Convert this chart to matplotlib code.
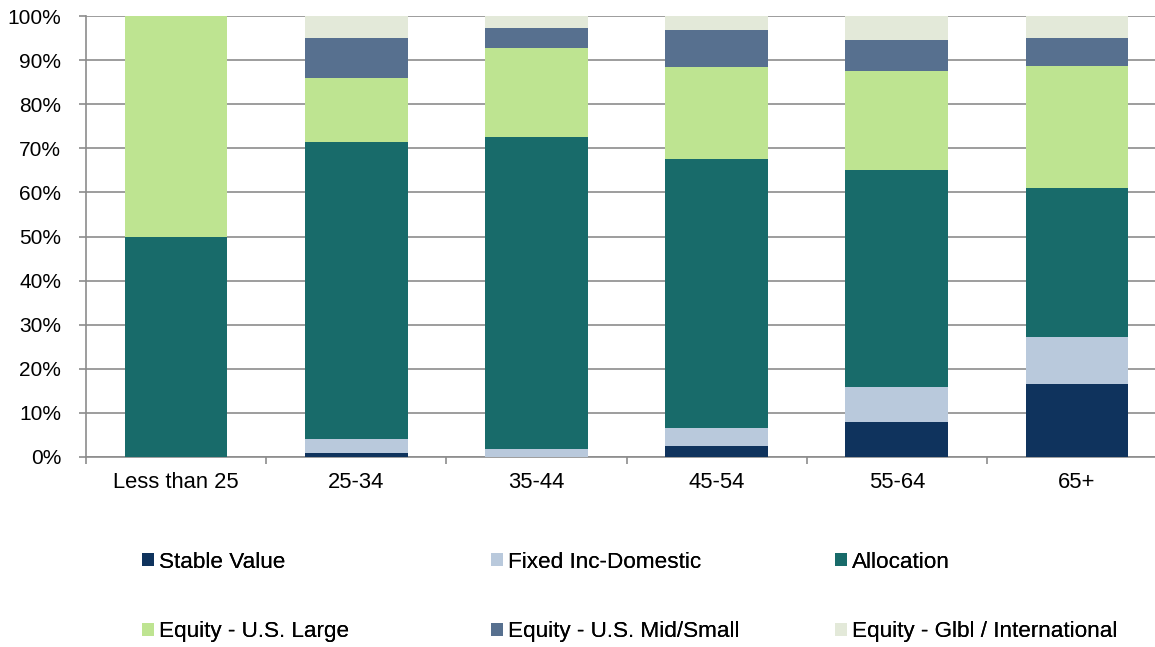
import matplotlib
matplotlib.use("Agg")
import matplotlib.pyplot as plt
import numpy as np

plt.rcParams['font.family'] = ['Liberation Sans', 'DejaVu Sans']

categories = ["Less than 25", "25-34", "35-44", "45-54", "55-64", "65+"]
series_names = ["Stable Value", "Fixed Inc-Domestic", "Allocation",
                "Equity - U.S. Large", "Equity - U.S. Mid/Small",
                "Equity - Glbl / International"]
stable_value = [0.0, 0.9, 0.0, 2.4, 7.9, 16.6]
fixed_inc = [0.0, 3.1, 1.7, 4.1, 8.0, 10.6]
allocation = [50.0, 67.5, 70.8, 61.2, 49.1, 33.8]
equity_large = [50.0, 14.6, 20.4, 20.7, 22.6, 27.7]
equity_mid = [0.0, 9.0, 4.4, 8.6, 7.1, 6.4]
equity_glbl = [0.0, 4.9, 2.7, 3.0, 5.3, 4.9]
colors = ["#0F335D", "#B9C9DC", "#186B6A", "#BEE491", "#57708F", "#E3E9D9"]
y_ticks = [0, 10, 20, 30, 40, 50, 60, 70, 80, 90, 100]

W, H = 1155, 647
fig = plt.figure(figsize=(W / 100, H / 100), dpi=100)
ax = fig.add_axes([86 / W, (H - 456.7) / H, 1081 / W, 440.4 / H])

series = [stable_value, fixed_inc, allocation, equity_large, equity_mid, equity_glbl]
x = np.arange(len(categories))
bottom = np.zeros(len(categories))
handles = []
for name, vals, c in zip(series_names, series, colors):
    b = ax.bar(x, vals, width=0.57, bottom=bottom, color=c, label=name,
               linewidth=0, zorder=3)
    handles.append(b)
    bottom += np.array(vals)

ax.set_xlim(-0.5, len(categories) - 0.5)
ax.set_ylim(0, 100)
ax.set_yticks(y_ticks)
ax.set_yticklabels([f"{v}%" for v in y_ticks])
ax.yaxis.grid(True, color="#8C8C8C", linewidth=1.2, zorder=0)
ax.set_axisbelow(True)

ax.set_xticks(x)
ax.set_xticklabels(categories)
ax.set_xticks(np.arange(-0.5, len(categories) + 0.5, 1), minor=True)
ax.tick_params(axis='x', which='major', length=0, labelsize=15.8, pad=11)
ax.tick_params(axis='x', which='minor', length=5, color="#8C8C8C", width=1.2)
ax.tick_params(axis='y', length=5, color="#8C8C8C", width=1.2, labelsize=15, pad=13)

for s in ["top", "right"]:
    ax.spines[s].set_visible(False)
for s in ["left", "bottom"]:
    ax.spines[s].set_color("#8C8C8C")
    ax.spines[s].set_linewidth(1.2)

# legend: Excel-like layout (3 columns, 2 rows, uneven columns)
col_x = [142, 491, 835]
row_y = [562, 632]
order = [(0, 0, 0), (1, 1, 0), (2, 2, 0), (3, 0, 1), (4, 1, 1), (5, 2, 1)]
for idx, ci, ri in order:
    leg = fig.legend([handles[idx]], [series_names[idx]], loc='center left',
                     bbox_to_anchor=(col_x[ci] / W, 1 - row_y[ri] / H),
                     bbox_transform=fig.transFigure, frameon=False,
                     borderpad=0, borderaxespad=0, fontsize=16.2,
                     handlelength=0.53, handleheight=0.53, handletextpad=0.22)
    fig.add_artist(leg)

fig.savefig("out.png", dpi=100)
